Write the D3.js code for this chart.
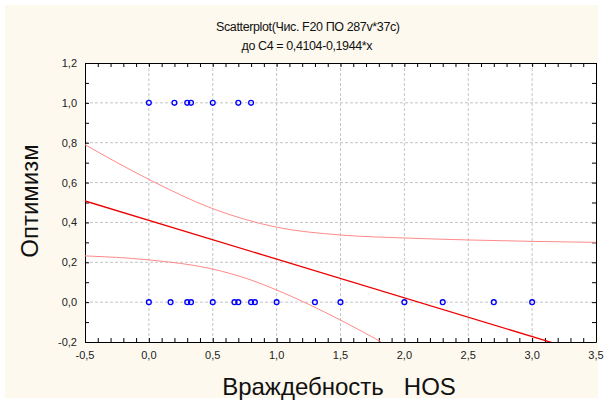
<!DOCTYPE html>
<html>
<head>
<meta charset="utf-8">
<script src="https://cdn.jsdelivr.net/npm/d3@7"></script>
<style>
  body { margin: 0; background: #fff; }
  svg { display: block; font-family: "Liberation Sans", Arial, sans-serif; }
</style>
</head>
<body>
<svg id="chart" width="604" height="403"></svg>
<script>
// points
var xAtOne = [0, 0.2, 0.3, 0.33, 0.5, 0.7, 0.8];
var xAtZero = [0, 0.17, 0.3, 0.33, 0.5, 0.67, 0.7, 0.8, 0.83, 1.0, 1.3, 1.5, 2.0, 2.3, 2.7, 3.0];

// fit line from title: y = 0.4104 - 0.1944*x
var intercept = 0.4104, slope = -0.1944;

// 95% bands, read at these x positions
var upperX = [-0.5, 0, 0.5, 1.0, 1.5, 2.0, 2.5, 3.0, 3.5];
var upperY = [0.79, 0.616, 0.469, 0.376, 0.337, 0.322, 0.312, 0.305, 0.30];
var lowerX = [-0.5, 0, 0.5, 0.8, 1.0, 1.5, 1.82];
var lowerY = [0.232, 0.212, 0.166, 0.111, 0.061, -0.09, -0.2];

var xTicks = [-0.5, 0, 0.5, 1, 1.5, 2, 2.5, 3, 3.5];
var yTicks = [-0.2, 0, 0.2, 0.4, 0.6, 0.8, 1.0, 1.2];

var svg = d3.select("#chart");
var pLeft = 85, pRight = 596, pTop = 63, pBottom = 342;

var x = d3.scaleLinear().domain([-0.5, 3.5]).range([pLeft, pRight]);
var y = d3.scaleLinear().domain([-0.2, 1.2]).range([pBottom, pTop]);
var fmt = function(d){ return d3.format(".1f")(d).replace(".", ",").replace("−", "-"); };

// cream backdrop + white plot
svg.append("rect").attr("x", 5).attr("y", 5).attr("width", 593).attr("height", 393).attr("fill", "#fdf9ef");
svg.append("rect").attr("x", pLeft).attr("y", pTop).attr("width", pRight - pLeft).attr("height", pBottom - pTop).attr("fill", "#fff");

svg.append("clipPath").attr("id", "clip")
  .append("rect").attr("x", pLeft).attr("y", pTop).attr("width", pRight - pLeft).attr("height", pBottom - pTop);

// grid
svg.append("g").selectAll("line").data(xTicks.slice(1, -1)).enter().append("line")
  .attr("x1", function(d){ return x(d); }).attr("x2", function(d){ return x(d); })
  .attr("y1", pTop).attr("y2", pBottom)
  .attr("stroke", "#c4c4c4").attr("stroke-dasharray", "3,2");
svg.append("g").selectAll("line").data(yTicks.slice(1, -1)).enter().append("line")
  .attr("y1", function(d){ return y(d); }).attr("y2", function(d){ return y(d); })
  .attr("x1", pLeft).attr("x2", pRight)
  .attr("stroke", "#c4c4c4").attr("stroke-dasharray", "3,2");

// axes, ticks pointing in on all four sides
var xMinor = d3.range(-5, 36).map(function(i){ return i / 10; });
var yMinor = d3.range(-2, 13).map(function(i){ return i / 10; });

svg.append("g").attr("transform", "translate(0," + pBottom + ")")
  .call(d3.axisBottom(x).tickValues(xMinor).tickSize(-4).tickSizeOuter(0).tickFormat(""));
svg.append("g").attr("transform", "translate(0," + pTop + ")")
  .call(d3.axisTop(x).tickValues(xMinor).tickSize(-4).tickSizeOuter(0).tickFormat(""));
svg.append("g").attr("transform", "translate(" + pLeft + ",0)")
  .call(d3.axisLeft(y).tickValues(yMinor).tickSize(-4).tickSizeOuter(0).tickFormat(""));
svg.append("g").attr("transform", "translate(" + pRight + ",0)")
  .call(d3.axisRight(y).tickValues(yMinor).tickSize(-4).tickSizeOuter(0).tickFormat(""));
svg.selectAll(".domain").attr("stroke", "#000");
svg.selectAll(".tick line").attr("stroke", "#000");

// tick labels
svg.append("g").selectAll("text").data(xTicks).enter().append("text")
  .attr("x", function(d){ return x(d); }).attr("y", pBottom + 17)
  .attr("text-anchor", "middle").attr("font-size", 11).attr("fill", "#222")
  .text(fmt);
svg.append("g").selectAll("text").data(yTicks).enter().append("text")
  .attr("x", pLeft - 8).attr("y", function(d){ return y(d) + 4; })
  .attr("text-anchor", "end").attr("font-size", 11).attr("fill", "#222")
  .text(fmt);

var plot = svg.append("g").attr("clip-path", "url(#clip)");

var band = d3.line().x(function(d){ return x(d[0]); }).y(function(d){ return y(d[1]); })
  .curve(d3.curveMonotoneX);

plot.append("path").datum(d3.zip(upperX, upperY)).attr("d", band)
  .attr("fill", "none").attr("stroke", "#ff8a8a").attr("stroke-width", 1);
plot.append("path").datum(d3.zip(lowerX, lowerY)).attr("d", band)
  .attr("fill", "none").attr("stroke", "#ff8a8a").attr("stroke-width", 1);

plot.append("line")
  .attr("x1", x(-0.5)).attr("y1", y(intercept + slope * -0.5))
  .attr("x2", x(3.5)).attr("y2", y(intercept + slope * 3.5))
  .attr("stroke", "#ee0000").attr("stroke-width", 1.3);

var pts = xAtOne.map(function(v){ return [v, 1]; })
  .concat(xAtZero.map(function(v){ return [v, 0]; }));
plot.append("g").selectAll("circle").data(pts).enter().append("circle")
  .attr("cx", function(d){ return x(d[0]); }).attr("cy", function(d){ return y(d[1]); })
  .attr("r", 2.4).attr("fill", "none").attr("stroke", "#0000ff").attr("stroke-width", 1.3);

// titles
svg.append("text").attr("x", 308).attr("y", 31).attr("text-anchor", "middle")
  .attr("font-size", 12.5).attr("textLength", 184).attr("lengthAdjust", "spacing").attr("fill", "#111")
  .text("Scatterplot(Чис. F20 ПО 287v*37c)");
svg.append("text").attr("x", 307).attr("y", 50).attr("text-anchor", "middle")
  .attr("font-size", 12.5).attr("textLength", 131).attr("lengthAdjust", "spacing").attr("fill", "#111")
  .text("до C4 = 0,4104-0,1944*x");

svg.append("text").attr("transform", "translate(38,201) rotate(-90)")
  .attr("text-anchor", "middle").attr("font-size", 24).attr("fill", "#111")
  .text("Оптимизм");
svg.append("text").attr("x", 339).attr("y", 395).attr("text-anchor", "middle")
  .attr("font-size", 24).attr("fill", "#111").style("white-space", "pre")
  .text("Враждебность   HOS");
</script>
</body>
</html>
